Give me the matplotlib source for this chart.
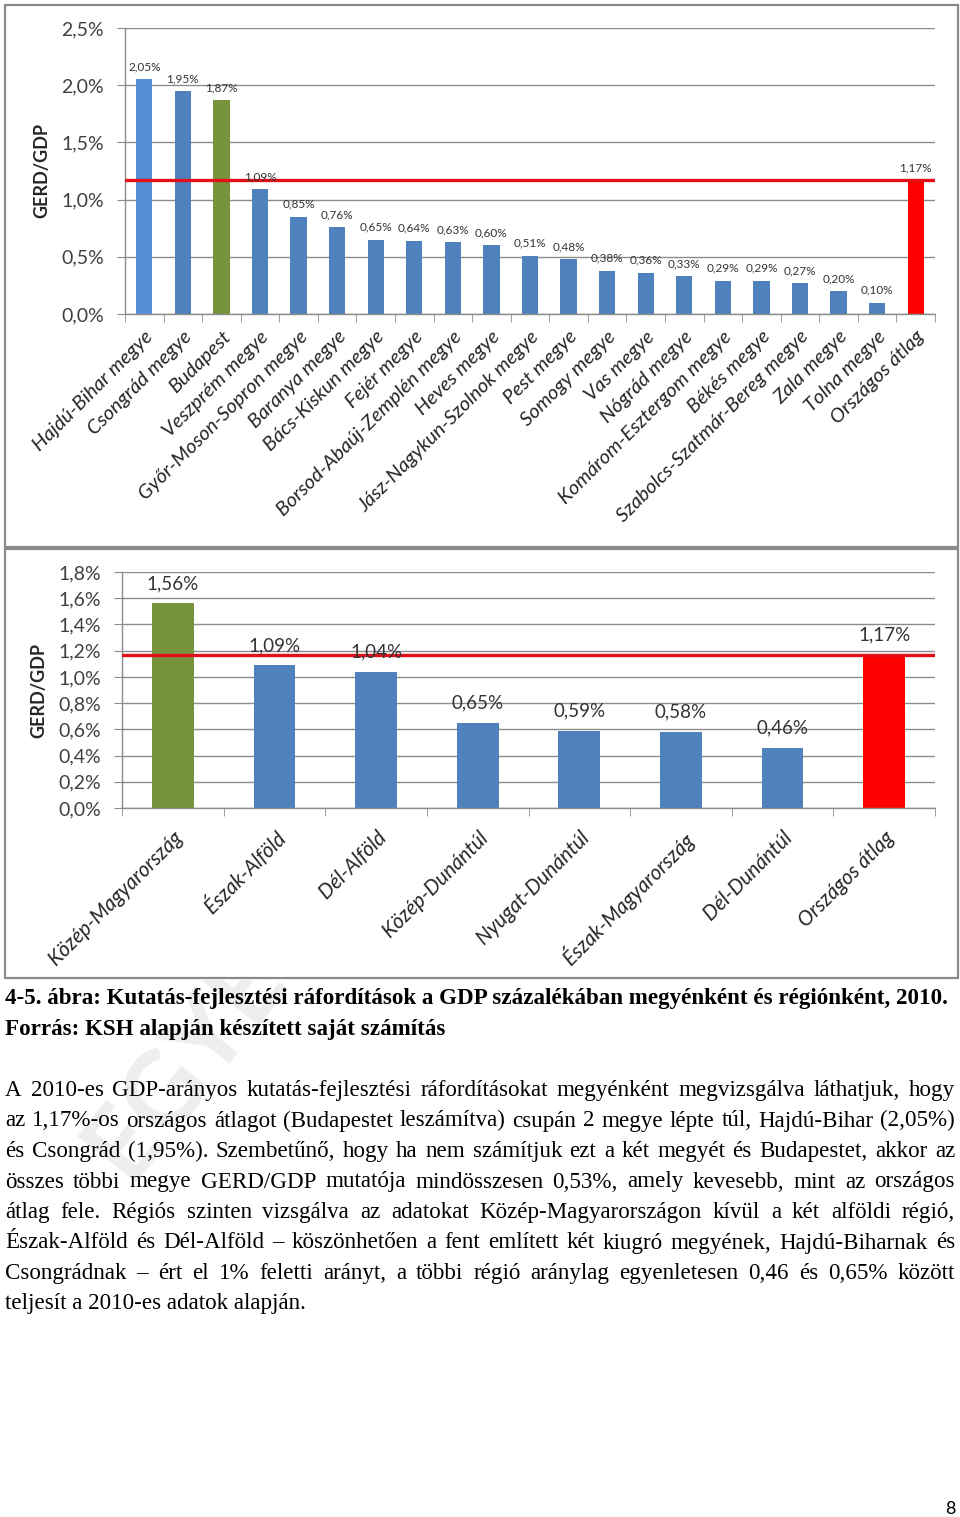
import matplotlib
matplotlib.use('Agg')
import matplotlib.pyplot as plt
from matplotlib.patches import Rectangle
from matplotlib.transforms import Bbox, TransformedBbox

# ---------------- data ----------------
counties = ["Hajdú-Bihar megye", "Csongrád megye", "Budapest", "Veszprém megye",
            "Győr-Moson-Sopron megye", "Baranya megye", "Bács-Kiskun megye", "Fejér megye",
            "Borsod-Abaúj-Zemplén megye", "Heves megye", "Jász-Nagykun-Szolnok megye",
            "Pest megye", "Somogy megye", "Vas megye", "Nógrád megye",
            "Komárom-Esztergom megye", "Békés megye", "Szabolcs-Szatmár-Bereg megye",
            "Zala megye", "Tolna megye", "Országos átlag"]
county_values = [2.05, 1.95, 1.87, 1.09, 0.85, 0.76, 0.65, 0.64, 0.63, 0.60, 0.51,
                 0.48, 0.38, 0.36, 0.33, 0.29, 0.29, 0.27, 0.20, 0.10, 1.17]

regions = ["Közép-Magyarország", "Észak-Alföld", "Dél-Alföld", "Közép-Dunántúl",
           "Nyugat-Dunántúl", "Észak-Magyarország", "Dél-Dunántúl", "Országos átlag"]
region_values = [1.56, 1.09, 1.04, 0.65, 0.59, 0.58, 0.46, 1.17]

national_avg = 1.17

county_yticks = [0.0, 0.5, 1.0, 1.5, 2.0, 2.5]
region_yticks = [0.0, 0.2, 0.4, 0.6, 0.8, 1.0, 1.2, 1.4, 1.6, 1.8]

caption_lines = ["4-5. ábra: Kutatás-fejlesztési ráfordítások a GDP százalékában megyénként és régiónként, 2010.",
                 "Forrás: KSH alapján készített saját számítás"]
body_lines = [
    "A 2010-es GDP-arányos kutatás-fejlesztési ráfordításokat megyénként megvizsgálva láthatjuk, hogy",
    "az 1,17%-os országos átlagot (Budapestet leszámítva) csupán 2 megye lépte túl, Hajdú-Bihar (2,05%)",
    "és Csongrád (1,95%). Szembetűnő, hogy ha nem számítjuk ezt a két megyét és Budapestet, akkor az",
    "összes többi megye GERD/GDP mutatója mindösszesen 0,53%, amely kevesebb, mint az országos",
    "átlag fele. Régiós szinten vizsgálva az adatokat Közép-Magyarországon kívül a két alföldi régió,",
    "Észak-Alföld és Dél-Alföld – köszönhetően a fent említett két kiugró megyének, Hajdú-Biharnak és",
    "Csongrádnak – ért el 1% feletti arányt, a többi régió aránylag egyenletesen 0,46 és 0,65% között",
    "teljesít a 2010-es adatok alapján.",
]

# ---------------- styles ----------------
W, H, DPI = 960, 1517, 100
BLUE = '#4F81BD'
LIGHT_BLUE = '#558ED5'
GREEN = '#77933C'
RED = '#FF0000'
LINE_RED = '#E3101A'
GRID = '#8C8C8C'
TXT = '#262626'
SANS = ['Lato', 'DejaVu Sans']
SERIF = ['Liberation Serif', 'DejaVu Serif']

plt.rcParams['font.family'] = SANS

fig = plt.figure(figsize=(W / DPI, H / DPI), dpi=DPI)
fig.patch.set_facecolor('white')


def fx(px):
    return px / W


def fy(py):
    return 1 - py / H


def pct(v, dec=2):
    return f"{v:.{dec}f}".replace('.', ',') + '%'


# ---------------- watermark (behind everything, only visible below the charts) ----------------
wm = fig.text(fx(185), fy(1062), 'EGYE', fontsize=74, fontweight='bold', color='#EEEEEE',
              rotation=52, ha='center', va='center', family=SANS, zorder=-5)
wm.set_clip_box(TransformedBbox(Bbox([[0, 0], [1, fy(980)]]), fig.transFigure))
wm.set_clip_on(True)

# frames around the two charts (white inside so they hide the watermark)
for (x0, y0, x1, y1) in [(5, 5, 958, 547), (5, 549, 958, 978)]:
    fig.patches.append(Rectangle((fx(x0), fy(y1)), (x1 - x0) / W, (y1 - y0) / H,
                                 transform=fig.transFigure, fill=False,
                                 edgecolor='#8A8A8A', lw=1.6, zorder=0))


def style_axes(ax, n, yticks, ymax, tick_fs, ylab_fs):
    ax.set_xlim(0, n)
    ax.set_ylim(0, ymax)
    ax.set_yticks(yticks)
    ax.yaxis.grid(True, color=GRID, lw=1.0)
    ax.set_axisbelow(True)
    for s in ['top', 'right']:
        ax.spines[s].set_visible(False)
    for s in ['left', 'bottom']:
        ax.spines[s].set_color(GRID)
        ax.spines[s].set_linewidth(1.0)
    ax.tick_params(axis='y', length=6, color=GRID, labelsize=tick_fs, labelcolor='#404040', pad=9)
    ax.set_xticks([i + 0.5 for i in range(n)])
    ax.set_xticks(list(range(n + 1)), minor=True)
    ax.tick_params(axis='x', which='major', length=0)
    ax.tick_params(axis='x', which='minor', length=6, color=GRID)
    ax.set_ylabel('GERD/GDP', fontsize=ylab_fs, fontweight='bold', color=TXT, labelpad=8)


# ---------------- top chart: counties ----------------
ax1 = fig.add_axes([fx(125), fy(314), 810 / W, 286 / H])
n1 = len(counties)
colors1 = [LIGHT_BLUE, BLUE, GREEN] + [BLUE] * (n1 - 4) + [RED]
x1 = [i + 0.5 for i in range(n1)]
ax1.bar(x1, county_values, width=0.42, color=colors1, zorder=2)
ax1.axhline(national_avg, color=LINE_RED, lw=2.4, zorder=3)
style_axes(ax1, n1, county_yticks, 2.5, 14, 13)
ax1.set_yticklabels([pct(v, 1) for v in county_yticks])
ax1.set_xticklabels(counties, rotation=45, ha='right', rotation_mode='anchor',
                    fontsize=14.5, style='italic', color=TXT)
ax1.tick_params(axis='x', which='major', pad=10)
for x, v in zip(x1, county_values):
    ax1.annotate(pct(v), (x, v), xytext=(0, 5), textcoords='offset points',
                 ha='center', va='bottom', fontsize=8.5, color='#333333')

# ---------------- bottom chart: regions ----------------
ax2 = fig.add_axes([fx(122), fy(808), 813 / W, 236 / H])
n2 = len(regions)
colors2 = [GREEN] + [BLUE] * (n2 - 2) + [RED]
x2 = [i + 0.5 for i in range(n2)]
ax2.bar(x2, region_values, width=0.41, color=colors2, zorder=2)
ax2.axhline(national_avg, color=LINE_RED, lw=2.4, zorder=3)
style_axes(ax2, n2, region_yticks, 1.8, 14, 13)
ax2.set_yticklabels([pct(v, 1) for v in region_yticks])
ax2.set_xticklabels(regions, rotation=45, ha='right', rotation_mode='anchor',
                    fontsize=14.8, style='italic', color=TXT)
ax2.tick_params(axis='x', which='major', pad=14)
for x, v in zip(x2, region_values):
    ax2.annotate(pct(v), (x, v), xytext=(0, 8), textcoords='offset points',
                 ha='center', va='bottom', fontsize=13.5, color='#333333')

# ---------------- text below ----------------
renderer = fig.canvas.get_renderer()


def width_of(s, **kw):
    t = fig.text(0, 0, s, **kw)
    w = t.get_window_extent(renderer).width
    t.remove()
    return w


LEFT, RIGHT = 5, 955

# caption size chosen so the first caption line spans like the reference
base = 14
cap_w = width_of(caption_lines[0], family=SERIF, fontsize=base, fontweight='bold')
cap_fs = base * (948 - LEFT) / cap_w
cap_kw = dict(family=SERIF, fontsize=cap_fs, fontweight='bold', color='black')
for i, line in enumerate(caption_lines):
    fig.text(fx(LEFT), fy(998 + 31 * i + 6), line, ha='left', va='baseline', **cap_kw)

# body size: as large as possible (<= caption size) while every justified line keeps real gaps
body_fs = cap_fs
for line in body_lines[:-1]:
    words = line.split(' ')
    nat = sum(width_of(w, family=SERIF, fontsize=base) for w in words)
    min_gap = 4.0
    fit = base * (RIGHT - LEFT - min_gap * (len(words) - 1)) / nat
    body_fs = min(body_fs, fit)
body_kw = dict(family=SERIF, fontsize=body_fs, color='black')
for i, line in enumerate(body_lines):
    yb = fy(1090 + 30.5 * i + 6)
    words = line.split(' ')
    if i == len(body_lines) - 1:
        fig.text(fx(LEFT), yb, line, ha='left', va='baseline', **body_kw)
        continue
    widths = [width_of(w, **body_kw) for w in words]
    gap = (RIGHT - LEFT - sum(widths)) / (len(words) - 1)
    xpos = LEFT
    for w, wd in zip(words, widths):
        fig.text(fx(xpos), yb, w, ha='left', va='baseline', **body_kw)
        xpos += wd + gap

fig.text(fx(956), fy(1514), '8', family=SANS, fontsize=13, ha='right', va='baseline', color='black')

fig.savefig('out.png', dpi=DPI)
